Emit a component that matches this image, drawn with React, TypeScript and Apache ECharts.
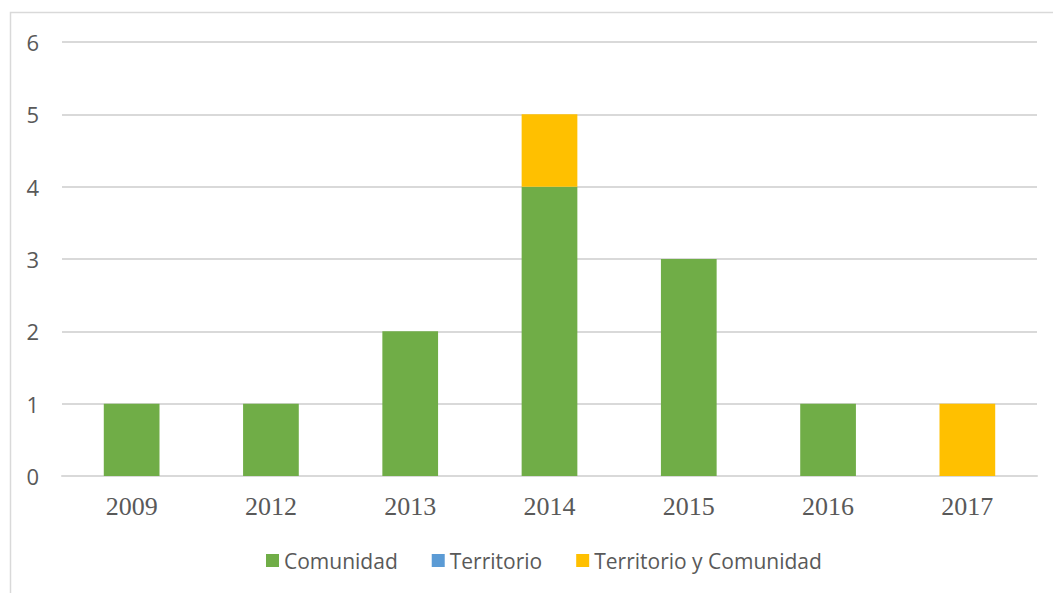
import React, { useEffect, useRef } from "react";
import * as echarts from "echarts";

const categories = ["2009", "2012", "2013", "2014", "2015", "2016", "2017"];
const comunidad = [1, 1, 2, 4, 3, 1, 0];
const territorio = [0, 0, 0, 0, 0, 0, 0];
const territorioYComunidad = [0, 0, 0, 1, 0, 0, 1];
const yTicks = { min: 0, max: 6, interval: 1 };

const nz = (a: number[]) => a.map((v) => (v === 0 ? null : v));

export default function App() {
  const ref = useRef<HTMLDivElement>(null);
  useEffect(() => {
    document.body.style.margin = "0";
    const chart = echarts.init(ref.current!, null, { renderer: "svg" });
    chart.setOption({
      animation: false,
      backgroundColor: "#ffffff",
      graphic: [
        {
          type: "rect",
          shape: { x: 10.5, y: 12.5, width: 1100, height: 700 },
          style: { fill: "none", stroke: "#d9d9d9", lineWidth: 1.5 },
          silent: true,
        },
      ],
      grid: { left: 62, right: 16, top: 42, bottom: 117 },
      legend: {
        top: 545,
        left: 261,
        itemWidth: 13,
        itemHeight: 13,
        itemGap: 34,
        icon: "rect",
        textStyle: { color: "#595959", fontSize: 21, fontFamily: "Open Sans" },
        data: ["Comunidad", "Territorio", "Territorio y Comunidad"],
      },
      xAxis: {
        type: "category",
        data: categories,
        axisLine: { lineStyle: { color: "#d9d9d9", width: 2 } },
        axisTick: { show: false },
        axisLabel: {
          color: "#595959",
          fontSize: 26,
          fontFamily: "Liberation Serif",
          margin: 17,
        },
      },
      yAxis: {
        type: "value",
        min: yTicks.min,
        max: yTicks.max,
        interval: yTicks.interval,
        axisLine: { show: false },
        axisTick: { show: false },
        splitLine: { lineStyle: { color: "#d9d9d9", width: 2 } },
        axisLabel: {
          color: "#595959",
          fontSize: 22,
          fontFamily: "Open Sans",
          margin: 23,
        },
      },
      series: [
        {
          name: "Comunidad",
          type: "bar",
          stack: "a",
          data: nz(comunidad),
          barWidth: "40%",
          itemStyle: { color: "#70ad47" },
        },
        {
          name: "Territorio",
          type: "bar",
          stack: "a",
          data: nz(territorio),
          barWidth: "40%",
          itemStyle: { color: "#5b9bd5" },
        },
        {
          name: "Territorio y Comunidad",
          type: "bar",
          stack: "a",
          data: nz(territorioYComunidad),
          barWidth: "40%",
          itemStyle: { color: "#ffc000" },
        },
      ],
    });
    return () => chart.dispose();
  }, []);
  return <div ref={ref} style={{ width: 1053, height: 593 }} />;
}
